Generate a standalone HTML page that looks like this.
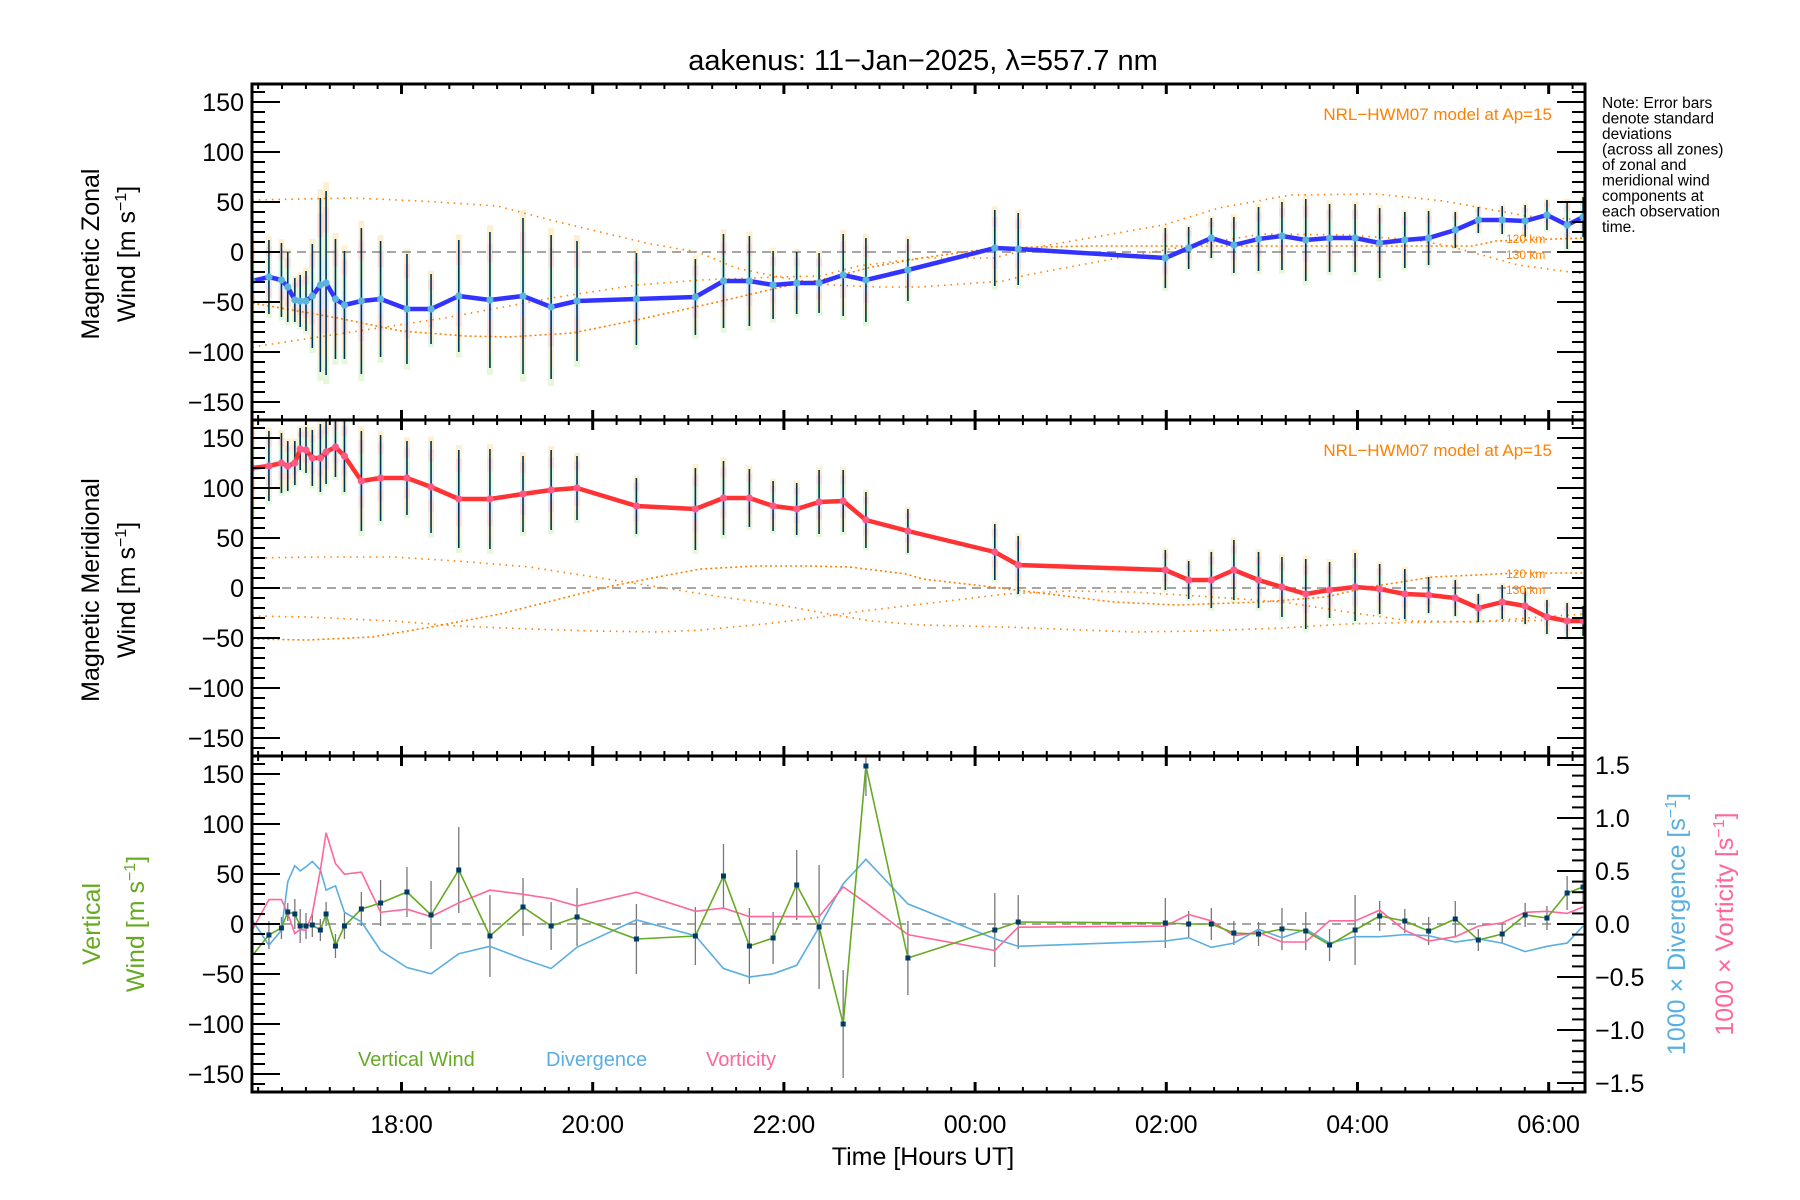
<!DOCTYPE html>
<html><head><meta charset="utf-8"><style>
html,body{margin:0;padding:0;background:#fff}
svg{display:block;font-family:"Liberation Sans",sans-serif}
</style></head><body>
<svg id="chart" width="1800" height="1200" viewBox="0 0 1800 1200" xmlns="http://www.w3.org/2000/svg">
<rect x="0" y="0" width="1800" height="1200" fill="#fff"/>
<defs>
<clipPath id="c0"><rect x="252" y="84" width="1333" height="336"/></clipPath>
<clipPath id="c1"><rect x="252" y="420" width="1333" height="336"/></clipPath>
<clipPath id="c2"><rect x="252" y="756" width="1333" height="336"/></clipPath>
</defs>
<text x="923" y="70" font-size="29" text-anchor="middle">aakenus: 11−Jan−2025, λ=557.7 nm</text>
<g id="layer"></g>
<g font-size="15.5">
<text x="1602" y="108">Note: Error bars</text>
<text x="1602" y="123.5">denote standard</text>
<text x="1602" y="139">deviations</text>
<text x="1602" y="154.5">(across all zones)</text>
<text x="1602" y="170">of zonal and</text>
<text x="1602" y="185.5">meridional wind</text>
<text x="1602" y="201">components at</text>
<text x="1602" y="216.5">each observation</text>
<text x="1602" y="232">time.</text>
</g>
<g font-size="25">
<text transform="translate(99,254) rotate(-90)" text-anchor="middle">Magnetic Zonal</text>
<text transform="translate(135,254) rotate(-90)" text-anchor="middle">Wind [m s<tspan font-size="16" dy="-9">−1</tspan><tspan dy="9">]</tspan></text>
</g>
<g font-size="25">
<text transform="translate(99,590) rotate(-90)" text-anchor="middle">Magnetic Meridional</text>
<text transform="translate(135,590) rotate(-90)" text-anchor="middle">Wind [m s<tspan font-size="16" dy="-9">−1</tspan><tspan dy="9">]</tspan></text>
</g>
<g font-size="25" fill="#66aa22">
<text transform="translate(100,924) rotate(-90)" text-anchor="middle">Vertical</text>
<text transform="translate(144,924) rotate(-90)" text-anchor="middle">Wind [m s<tspan font-size="16" dy="-9">−1</tspan><tspan dy="9">]</tspan></text>
</g>
<text transform="translate(1685,924) rotate(-90)" text-anchor="middle" font-size="25" fill="#5aaee0">1000 × Divergence [s<tspan font-size="16" dy="-9">−1</tspan><tspan dy="9">]</tspan></text>
<text transform="translate(1733,924) rotate(-90)" text-anchor="middle" font-size="25" fill="#ff6699">1000 × Vorticity [s<tspan font-size="16" dy="-9">−1</tspan><tspan dy="9">]</tspan></text>
<text x="923" y="1165" font-size="25" text-anchor="middle">Time [Hours UT]</text>
<text x="1552" y="120" font-size="17" fill="#ff8000" text-anchor="end">NRL−HWM07 model at Ap=15</text>
<text x="1552" y="456" font-size="17" fill="#ff8000" text-anchor="end">NRL−HWM07 model at Ap=15</text>
<g font-size="12" fill="#ff8000">
<text x="1506" y="243">120 km</text><text x="1506" y="259">130 km</text>
<text x="1506" y="578">120 km</text><text x="1506" y="594">130 km</text>
</g>
<g font-size="20">
<text x="358" y="1066" fill="#66aa22">Vertical Wind</text>
<text x="546" y="1066" fill="#5aaee0">Divergence</text>
<text x="706" y="1066" fill="#ff6699">Vorticity</text>
</g>
</svg>
<script>
// ---- data ----
const times = [16.436,16.613,16.744,16.810,16.884,16.940,17.001,17.067,17.151,17.211,17.309,17.403,17.580,17.781,18.057,18.309,18.599,18.925,19.271,19.565,19.836,20.457,21.074,21.368,21.639,21.887,22.134,22.368,22.620,22.858,23.297,
 24.206,24.451,25.990,26.234,26.471,26.707,26.965,27.210,27.459,27.708,27.975,28.232,28.495,28.744,29.023,29.264,29.514,29.754,29.982,30.193,30.360];
const zonal = [-29,-25,-28,-35,-48,-49,-49,-44,-33,-31,-47,-53,-49,-47,-57,-57,-44,-48,-44,-55,-49,-47,-45,-29,-29,-33,-31,-31,-23,-28,-18,
 4,3,-6,4,14,7,13,16,12,14,14,9,12,14,22,32,32,31,37,27,35];
const zonalErr = [40,37,37,35,22,26,30,52,87,92,60,54,73,58,55,35,56,68,78,72,60,46,38,47,45,34,31,30,41,42,31,
 38,36,30,21,20,28,32,34,41,34,34,35,28,27,18,13,14,16,15,24,20];
const merid = [120,122,125,122,125,139,138,130,130,136,141,132,107,110,110,101,89,89,94,98,100,82,79,90,90,82,79,86,87,68,57,
 36,23,18,8,8,18,8,1,-6,-2,1,-1,-6,-7,-10,-20,-14,-18,-29,-33,-33];
const meridErr = [45,35,30,25,22,21,23,28,34,32,30,36,50,43,37,46,49,50,38,40,32,28,41,37,29,25,26,32,31,28,22,
 28,29,20,19,28,30,28,30,35,28,34,25,25,18,18,14,17,18,17,18,15];
const vert = [-32,-11,-4,12,10,-2,-2,-1,-6,10,-22,-2,15,21,32,9,54,-12,17,-2,7,-15,-12,48,-22,-14,39,-3,-100,158,-34,
 -6,2,1,0,0,-9,-10,-5,-7,-21,-6,8,3,-7,5,-16,-10,9,6,31,37];
const vertErr = [0,14,11,9,15,17,13,12,11,12,12,13,17,23,25,34,43,41,29,24,29,35,29,32,38,26,35,62,54,30,37,
 37,27,25,13,16,12,12,21,19,16,35,15,12,14,18,11,10,12,12,17,15];
const diverg = [0.04,-0.20,-0.06,0.40,0.55,0.50,0.54,0.59,0.51,0.32,0.36,0.11,0.02,-0.25,-0.41,-0.47,-0.28,-0.21,-0.33,-0.42,-0.22,0.04,-0.11,-0.42,-0.50,-0.47,-0.39,-0.03,0.38,0.61,0.19,
 -0.14,-0.21,-0.16,-0.13,-0.22,-0.18,-0.05,-0.13,-0.05,-0.18,-0.12,-0.12,-0.10,-0.11,-0.17,-0.14,-0.18,-0.26,-0.21,-0.18,-0.02];
const vortic = [-0.06,0.23,0.23,0.10,-0.09,-0.05,-0.06,0.10,0.51,0.86,0.57,0.47,0.49,0.11,0.14,0.07,0.20,0.32,0.28,0.24,0.17,0.30,0.12,0.15,0.07,0.07,0.07,0.07,0.35,0.20,-0.10,
 -0.25,-0.03,-0.02,0.09,0.03,-0.11,-0.08,-0.17,-0.17,0.03,0.03,0.13,-0.06,-0.16,-0.12,-0.02,0.01,0.11,0.12,0.10,0.16];
// model curves (hours, m/s)
const zModel1T = [16.44,17.5,18.2,19.0,19.6,20.6,21.1,21.5,22.0,22.5,23.0,23.42,24.3,24.54,25.66,27.0,27.9,28.6,28.9,29.15,29.68,30.38];
const zModel1V = [52,54,51,46,31,8,0,-16,-26,-33,-35,-35,-29,-23,-3,18,17,12,7,1,-13,-22];
const zModel2T = [16.44,17.33,18.0,18.67,19.12,19.79,20.46,21.35,21.93,22.47,22.92,23.44,24.2,25.2,29.2,29.45,30.38];
const zModel2V = [-51,-66,-79,-84,-85,-81,-68,-49,-36,-26,-15,-6,4,6,6,11,14];
const zModel3T = [16.44,18.45,19.57,20.46,21.13,21.93,22.38,22.78,23.44,24.2,24.6,25.97,26.55,27.3,28.2,28.9,29.77,30.38];
const zModel3V = [-95,-66,-46,-33,-28,-25,-24,-14,-6,-6,4,27,44,57,58,51,36,32];
const mModel1T = [16.44,17.11,17.91,18.58,19.34,20.01,20.68,21.35,22.02,22.47,22.92,23.45,24.32,25.66,26.33,27.22,27.89,28.79,29.68,30.38];
const mModel1V = [30,31,31,27,21,11,1,-9,-18,-26,-33,-37,-39,-44,-43,-40,-36,-34,-33,-31];
const mModel2T = [16.44,17.02,17.69,18.31,19.03,19.57,20.15,20.68,21.13,21.71,22.25,22.69,23.28,23.45,24.09,24.77,25.44,26.11,27.0,27.67,28.12,28.79,29.68,30.38];
const mModel2V = [-51,-52,-49,-39,-26,-13,1,11,19,22,22,21,14,9,2,-6,-14,-17,-14,-9,1,11,15,15];
const mModel3T = [16.44,17.02,17.91,18.58,19.34,20.01,20.68,21.13,21.80,22.38,22.83,23.45,24.32,24.99,25.66,26.33,27.22,27.89,28.56,29.24,29.91,30.38];
const mModel3V = [-28,-29,-33,-38,-41,-43,-44,-42,-36,-29,-23,-16,-6,-3,-4,-8,-14,-24,-33,-34,-29,-26];
const yTicks = [150,100,50,0,-50,-100,-150];
const yTickLabels = ["150","100","50","0","−50","−100","−150"];
const rTicks = [1.5,1.0,0.5,0.0,-0.5,-1.0,-1.5];
const rTickLabels = ["1.5","1.0","0.5","0.0","−0.5","−1.0","−1.5"];
const xTicks = [18,20,22,24,26,28,30];
const xTickLabels = ["18:00","20:00","22:00","00:00","02:00","04:00","06:00"];

// ---- scales ----
const L=252,R=1585,T0=16.436,T1=30.38;
const tops=[84,420,756],PH=336;
function X(t){return L+(t-T0)*(R-L)/(T1-T0);}
function Y(v,p){return tops[p]+PH/2-v*(PH/336);}
function YR(d){return tops[2]+PH/2-d*106;}
const NS="http://www.w3.org/2000/svg";
const layer=document.getElementById('layer');
function mk(tag,attrs,parent){const e=document.createElementNS(NS,tag);for(const k in attrs)e.setAttribute(k,attrs[k]);(parent||layer).appendChild(e);return e;}
function pts(ts,vs,f){return ts.map((t,i)=>X(t).toFixed(1)+','+f(vs[i]).toFixed(1)).join(' ');}

const bandCols=['#fbe6b0','#fcc8bc','#d6f3c4','#c4f2e8','#d0dcfa','#fcc8bc','#fbe6b0','#d6f3c4'];
function windPanel(p,vals,errs,lineCol,dotCol,models,name){
  const g=mk('g',{'clip-path':'url(#c'+p+')'});
  
  
  times.forEach((t,i)=>{
    const e=errs[i]*1.1, h=2*e/bandCols.length;
    bandCols.forEach((c,k)=>{
      const r=mk('rect',{x:X(t)-3,y:Y(vals[i]+e,p)+k*h,width:6,height:h,fill:c,opacity:0.6},g);
      
      
    });
  });
  const z=mk('line',{x1:L,x2:R,y1:Y(0,p),y2:Y(0,p),stroke:'#888',"stroke-width":1.5,"stroke-dasharray":"9 6"},g);
  
  
  models.forEach((m,k)=>{
    const pl=mk('polyline',{points:pts(m[0],m[1],v=>Y(v,p)),fill:'none',stroke:'#ff8000',"stroke-width":1.6,"stroke-dasharray":k==1?"2 3":"1.5 5"},g);
    
    
  });
  times.forEach((t,i)=>{
    const b=mk('line',{x1:X(t),x2:X(t),y1:Y(vals[i]+errs[i],p),y2:Y(vals[i]-errs[i],p),stroke:'#003355',"stroke-width":1.6},g);
    
    
  });
  const ln=mk('polyline',{points:pts(times,vals,v=>Y(v,p)),fill:'none',stroke:lineCol,"stroke-width":4.5,"stroke-linejoin":"round"},g);
  
  
  times.forEach((t,i)=>{
    const d=mk('circle',{cx:X(t),cy:Y(vals[i],p),r:3.6,fill:dotCol},g);
    
    
  });
}
windPanel(0,zonal,zonalErr,'#3333ff','#5ab4dc',[[zModel1T,zModel1V],[zModel2T,zModel2V],[zModel3T,zModel3V]],'zonal');
windPanel(1,merid,meridErr,'#ff3333','#ff5a85',[[mModel1T,mModel1V],[mModel2T,mModel2V],[mModel3T,mModel3V]],'meridional');

// panel 3
const g3=mk('g',{'clip-path':'url(#c2)'});


const z3=mk('line',{x1:L,x2:R,y1:Y(0,2),y2:Y(0,2),stroke:'#888',"stroke-width":1.5,"stroke-dasharray":"9 6"},g3);


times.forEach((t,i)=>{ if(!vertErr[i])return;
  const b=mk('line',{x1:X(t),x2:X(t),y1:Y(vert[i]+vertErr[i],2),y2:Y(vert[i]-vertErr[i],2),stroke:'#777',"stroke-width":1.3},g3);
  
  
});
const dl=mk('polyline',{points:pts(times,diverg,YR),fill:'none',stroke:'#5aaee0',"stroke-width":1.6},g3);


const vl=mk('polyline',{points:pts(times,vortic,YR),fill:'none',stroke:'#ff6699',"stroke-width":1.6},g3);


const wl=mk('polyline',{points:pts(times,vert,v=>Y(v,2)),fill:'none',stroke:'#66aa22',"stroke-width":1.6},g3);


times.forEach((t,i)=>{ if(i===0)return;
  const s=mk('rect',{x:X(t)-2.5,y:Y(vert[i],2)-2.5,width:5,height:5,fill:'#003a66'},g3);
  
  
});

// axes
for(let p=0;p<3;p++){
  const top=tops[p],bot=top+PH;
  const fr=mk('rect',{x:L,y:top,width:R-L,height:PH,fill:'none',stroke:'#000',"stroke-width":3});
  
  
  for(let v=-160;v<=160;v+=10){
    const y=Y(v,p), maj=v%50===0;
    mk('line',{x1:L,x2:L+(maj?28:13),y1:y,y2:y,stroke:'#000',"stroke-width":2});
    if(p<2) mk('line',{x1:R,x2:R-(maj?28:13),y1:y,y2:y,stroke:'#000',"stroke-width":2});
  }
  yTicks.forEach((v,i)=>{
    const tx=mk('text',{x:L-8,y:Y(v,p)+9,"font-size":25,"text-anchor":"end"});
    tx.textContent=yTickLabels[i];
    
    
  });
  for(let t=16.5;t<=30.38;t+=0.25){
    const x=X(t), maj=Math.abs(t/2-Math.round(t/2))<1e-6;
    mk('line',{x1:x,x2:x,y1:top,y2:top+(maj?10:5),stroke:'#000',"stroke-width":maj?3:2});
    mk('line',{x1:x,x2:x,y1:bot,y2:bot-(maj?10:5),stroke:'#000',"stroke-width":maj?3:2});
  }
}
for(let d=-1.5;d<=1.5001;d+=0.1){
  const y=YR(d), maj=Math.abs(d*2-Math.round(d*2))<1e-6;
  mk('line',{x1:R,x2:R-(maj?28:13),y1:y,y2:y,stroke:'#000',"stroke-width":2});
}
rTicks.forEach((d,i)=>{
  const tx=mk('text',{x:R+10,y:YR(d)+9,"font-size":25});
  tx.textContent=rTickLabels[i];
  
  
});
xTicks.forEach((t,i)=>{
  const tx=mk('text',{x:X(t),y:1133,"font-size":25,"text-anchor":"middle"});
  tx.textContent=xTickLabels[i];
  
  
});
</script>
</body></html>
